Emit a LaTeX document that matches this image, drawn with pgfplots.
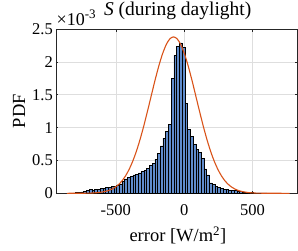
\documentclass[border=0pt]{standalone}
\usepackage{pgfplots}
\pgfplotsset{compat=1.18}
\usepackage{fontspec}
\setmainfont{Liberation Serif}
\definecolor{barblue}{RGB}{96,140,204}
\definecolor{curveorange}{RGB}{217,83,25}
\definecolor{axgray}{RGB}{38,38,38}
\definecolor{gridgray}{RGB}{222,222,222}
\begin{document}
\begin{tikzpicture}
\begin{axis}[
  at={(0,0)}, anchor=south west,
  scale only axis,
  width=241pt, height=164.3pt,
  xmin=-938, xmax=826,
  ymin=0, ymax=2.5,
  xtick={-500,0,500},
  xticklabels={-500,0,500},
  ytick={0,0.5,1,1.5,2,2.5},
  yticklabels={0,0.5,1,1.5,2,2.5},
  grid=major,
  major grid style={draw=gridgray, line width=0.5pt},
  axis line style={draw=axgray, line width=0.6pt},
  tick style={draw=axgray, line width=0.5pt},
  tick align=inside,
  major tick length=2.5pt,
  ticklabel style={font=\fontsize{16.5}{19}\selectfont, text=black},
  xticklabel style={anchor=base, yshift=-21.7pt, inner sep=0pt},
  yticklabel style={anchor=east, xshift=-3pt, inner sep=0pt},
  xlabel={error [W/m\textsuperscript{2}]},
  ylabel={PDF},
  label style={font=\fontsize{18.5}{21}\selectfont},
  xlabel style={at={(axis description cs:0.506,-0.2946)}, anchor=base},
  ylabel style={at={(axis description cs:-0.1286,0.5)}, anchor=base},
  title={\textit{S} (during daylight)},
  title style={font=\fontsize{19.5}{22}\selectfont, at={(axis description cs:0.505,1)}, anchor=base, yshift=8pt},
]
\addplot[ybar interval, fill=barblue, draw=black, line width=0.5pt] coordinates {
(-835,0.003) (-815,0.005) (-795,0.01) (-775,0.015) (-755,0.02) (-735,0.03)
(-715,0.04) (-695,0.055) (-675,0.05) (-655,0.055) (-635,0.06) (-615,0.07)
(-595,0.08) (-575,0.085) (-555,0.09) (-535,0.10) (-515,0.11) (-495,0.12)
(-475,0.14) (-455,0.18) (-435,0.22) (-415,0.24) (-395,0.26) (-375,0.28)
(-355,0.29) (-335,0.31) (-315,0.33) (-295,0.35) (-275,0.38) (-255,0.42)
(-235,0.46) (-215,0.52) (-195,0.61) (-175,0.72) (-155,0.84) (-135,0.94)
(-115,1.05) (-95,1.75) (-75,2.10) (-55,2.23) (-35,2.29) (-15,2.22)
(5,1.37) (25,0.97) (45,0.87) (65,0.75) (85,0.67) (105,0.62)
(125,0.53) (145,0.37) (165,0.28) (185,0.16) (205,0.14) (225,0.11)
(245,0.09) (265,0.08) (285,0.065) (305,0.06) (325,0.05) (345,0.045)
(365,0.04) (385,0.03) (405,0.025) (425,0.02) (445,0.015) (465,0.012)
(485,0.01) (505,0.008) (525,0.007) (545,0.006) (565,0.005) (585,0.005)
(605,0.004) (625,0.004) (645,0.003) (665,0.003) (685,0.002) (705,0.002)
(725,0.002) (745,0.001) (765,0.001)
};
\addplot[color=curveorange, line width=1.1pt, smooth, no marks] coordinates {
(-858,0) (-778,0.0004) (-728,0.0013) (-678,0.0039) (-628,0.0109)
(-578,0.0278) (-553,0.0429) (-528,0.0647) (-503,0.0955) (-478,0.138)
(-453,0.1947) (-428,0.269) (-403,0.3632) (-378,0.4796) (-353,0.6195)
(-328,0.7823) (-303,0.9665) (-278,1.168) (-253,1.380) (-228,1.595)
(-203,1.802) (-178,1.992) (-153,2.153) (-128,2.276) (-103,2.354)
(-78,2.38) (-53,2.354) (-28,2.276) (-3,2.153) (22,1.992) (47,1.802)
(72,1.595) (97,1.380) (122,1.168) (147,0.9665) (172,0.7823) (197,0.6195)
(222,0.4796) (247,0.3632) (272,0.269) (297,0.1947) (322,0.138)
(347,0.0955) (372,0.0647) (397,0.0429) (422,0.0278) (472,0.0109)
(522,0.0039) (572,0.0013) (622,0.0004) (672,0.0001) (772,0)
};
\end{axis}
\node[anchor=base west, inner sep=0pt, font=\fontsize{18}{20}\selectfont] at (0.5pt,168.3pt) {×10\raisebox{6.5pt}{\fontsize{13}{15}\selectfont -3}};
\pgfresetboundingbox
\path[use as bounding box] (-56pt,-56.7pt) rectangle (242pt,193.3pt);
\end{tikzpicture}
\end{document}
